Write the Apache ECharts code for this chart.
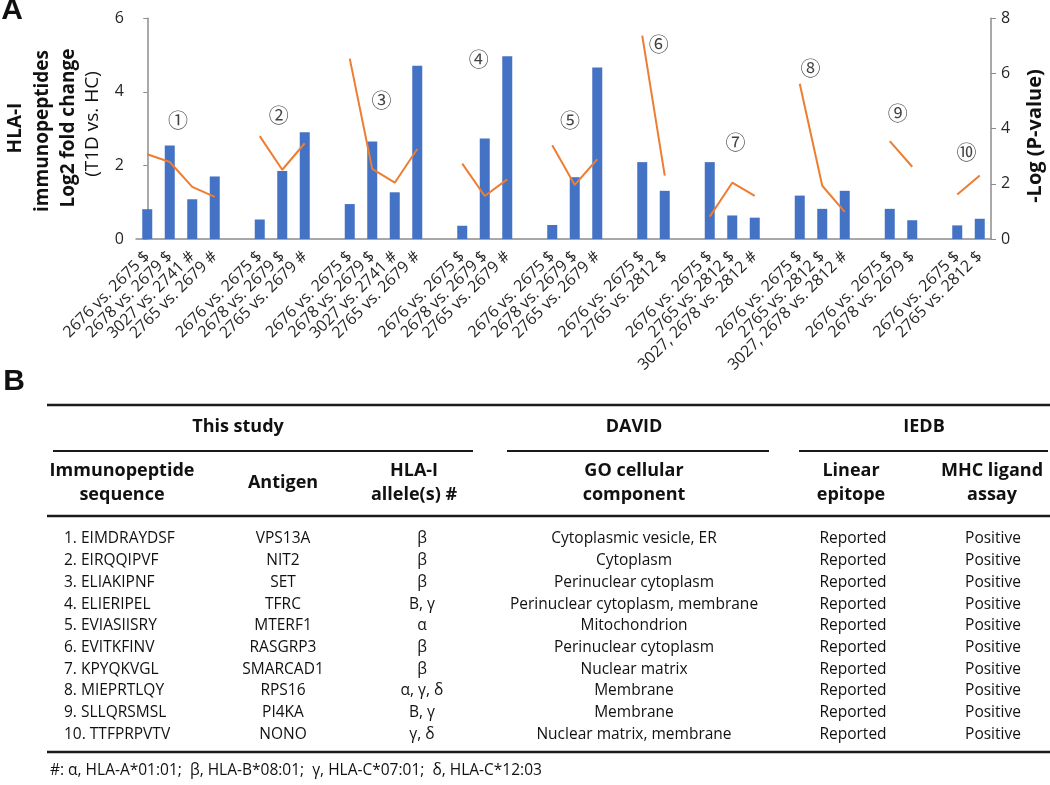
<!DOCTYPE html>
<html><head><meta charset="utf-8">
<script src="https://cdn.jsdelivr.net/npm/echarts/dist/echarts.min.js"></script>
<style>html,body{margin:0;padding:0;background:#fff}#c{width:1050px;height:785px}</style>
</head><body><div id="c"></div>
<script>
// ---------- Panel A data ----------
const categories = [
  '2676 vs. 2675 $', '2678 vs. 2679 $', '3027 vs. 2741 #', '2765 vs. 2679 #', '',
  '2676 vs. 2675 $', '2678 vs. 2679 $', '2765 vs. 2679 #', '',
  '2676 vs. 2675 $', '2678 vs. 2679 $', '3027 vs. 2741 #', '2765 vs. 2679 #', '',
  '2676 vs. 2675 $', '2678 vs. 2679 $', '2765 vs. 2679 #', '',
  '2676 vs. 2675 $', '2678 vs. 2679 $', '2765 vs. 2679 #', '',
  '2676 vs. 2675 $', '2765 vs. 2812 $', '',
  '2676 vs. 2675 $', '2765 vs. 2812 $', '3027, 2678 vs. 2812 #', '',
  '2676 vs. 2675 $', '2765 vs. 2812 $', '3027, 2678 vs. 2812 #', '',
  '2676 vs. 2675 $', '2678 vs. 2679 $', '',
  '2676 vs. 2675 $', '2765 vs. 2812 $'
];
const log2FoldChange = [
  0.81, 2.54, 1.08, 1.70, null,
  0.53, 1.85, 2.90, null,
  0.95, 2.65, 1.27, 4.71, null,
  0.36, 2.73, 4.97, null,
  0.38, 1.68, 4.66, null,
  2.09, 1.31, null,
  2.09, 0.64, 0.58, null,
  1.18, 0.82, 1.31, null,
  0.82, 0.51, null,
  0.37, 0.55
];
const negLogP = [
  3.07, 2.79, 1.89, 1.53, null,
  3.73, 2.51, 3.47, null,
  6.54, 2.54, 2.04, 3.26, null,
  2.73, 1.56, 2.16, null,
  3.40, 1.96, 2.89, null,
  7.37, 2.30, null,
  0.81, 2.04, 1.56, null,
  5.63, 1.93, 0.98, null,
  3.55, 2.62, null,
  1.61, 2.30
];
const groupMarks = ['①','②','③','④','⑤','⑥','⑦','⑧','⑨','⑩'];
const groupMarkX = [1.37, 5.84, 10.41, 14.73, 18.79, 22.73, 26.14, 29.48, 33.36, 36.41];
const groupMarkY = [3.22, 3.37, 3.78, 4.87, 3.22, 5.28, 2.62, 4.64, 3.42, 2.35];

// ---------- Panel B data ----------
const sectionHeaders = ['This study', 'DAVID', 'IEDB'];
const columnHeaders = [
  ['Immunopeptide', 'sequence'], ['Antigen'], ['HLA-I', 'allele(s) #'],
  ['GO cellular', 'component'], ['Linear', 'epitope'], ['MHC ligand', 'assay']
];
const sequences = ['1. EIMDRAYDSF','2. EIRQQIPVF','3. ELIAKIPNF','4. ELIERIPEL','5. EVIASIISRY',
  '6. EVITKFINV','7. KPYQKVGL','8. MIEPRTLQY','9. SLLQRSMSL','10. TTFPRPVTV'];
const antigens = ['VPS13A','NIT2','SET','TFRC','MTERF1','RASGRP3','SMARCAD1','RPS16','PI4KA','NONO'];
const alleles = ['β','β','β','B, γ','α','β','β','α, γ, δ','B, γ','γ, δ'];
const goComponents = ['Cytoplasmic vesicle, ER','Cytoplasm','Perinuclear cytoplasm',
  'Perinuclear cytoplasm, membrane','Mitochondrion','Perinuclear cytoplasm','Nuclear matrix',
  'Membrane','Membrane','Nuclear matrix, membrane'];
const linearEpitope = Array(10).fill('Reported');
const mhcLigandAssay = Array(10).fill('Positive');
const footnote = '#: α, HLA-A*01:01;  β, HLA-B*08:01;  γ, HLA-C*07:01;  δ, HLA-C*12:03';

// ---------- layout / style ----------
const FONT = '"Open Sans", "DejaVu Sans", sans-serif';
const AXIS_COLOR = '#8c8c8c';
const TEXT_COLOR = '#262626';

function txt(x, y, text, size, weight, align, rot, family) {
  return { type: 'text', x: x, y: y, rotation: rot || 0, silent: true,
    style: { text: text, fontSize: size, fontWeight: weight || 'normal',
      fontFamily: family || FONT, fill: '#111', align: align || 'center', verticalAlign: 'middle' } };
}
function hline(x1, x2, y, w) {
  return { type: 'line', silent: true, shape: { x1: x1, y1: y, x2: x2, y2: y },
    style: { stroke: '#1a1a1a', lineWidth: w } };
}

const graphics = [];
graphics.push(txt(12, 11, 'A', 30, 'bold', 'center', 0, '"Liberation Sans", Arial, sans-serif'));
graphics.push(txt(14, 382, 'B', 30, 'bold', 'center', 0, '"Liberation Sans", Arial, sans-serif'));
const R = Math.PI / 2;
graphics.push(txt(16, 128, 'HLA-I', 19, 'bold', 'center', R));
graphics.push(txt(43, 131, 'immunopeptides', 19, 'bold', 'center', R));
graphics.push(txt(69, 128, 'Log2 fold change', 19, 'bold', 'center', R));
graphics.push(txt(93, 124, '(T1D vs. HC)', 19, 'normal', 'center', R));
graphics.push(txt(1035, 136, '-Log (P-value)', 20, 'bold', 'center', R));

const colX = [122, 283, 414, 634, 851, 992];
const rowX = [64, 283, 422, 634, 853, 993];
const sectionX = [238, 634, 924];
graphics.push(hline(47, 1050, 405, 2.5));
sectionHeaders.forEach((h, i) => graphics.push(txt(sectionX[i], 427, h, 18, 'bold')));
graphics.push(hline(53, 473, 451, 2));
graphics.push(hline(507, 769, 451, 2));
graphics.push(hline(799, 1048, 451, 2));
columnHeaders.forEach((lines, i) => {
  if (lines.length === 1) graphics.push(txt(colX[i], 483, lines[0], 18, 'bold'));
  else { graphics.push(txt(colX[i], 471, lines[0], 18, 'bold')); graphics.push(txt(colX[i], 495, lines[1], 18, 'bold')); }
});
graphics.push(hline(47, 1050, 516, 2.5));
const cols = [sequences, antigens, alleles, goComponents, linearEpitope, mhcLigandAssay];
for (let r = 0; r < 10; r++) {
  const y = 539 + r * 21.7;
  cols.forEach((col, c) => graphics.push(txt(rowX[c], y, col[r], 15.5, 'normal', c === 0 ? 'left' : 'center')));
}
graphics.push(hline(47, 1050, 752, 2.5));
graphics.push(txt(50, 771, footnote, 15.5, 'normal', 'left'));

const chart = echarts.init(document.getElementById('c'), null, { renderer: 'canvas' });
chart.setOption({
  animation: false,
  backgroundColor: '#fff',
  grid: { left: 136, right: 59, top: 18.3, bottom: 546, containLabel: false, outerBoundsMode: 'none' },
  xAxis: [{
    type: 'category', data: categories, boundaryGap: true,
    axisLine: { show: true, lineStyle: { color: AXIS_COLOR, width: 1.5 } },
    axisTick: { show: false },
    axisLabel: { interval: 0, rotate: 45, margin: 15, fontSize: 16, fontFamily: FONT, color: TEXT_COLOR },
    splitLine: { show: false }
  }, {
    type: 'value', min: -0.5, max: 37.5, show: false
  }],
  yAxis: [{
    type: 'value', min: 0, max: 6, interval: 2, position: 'left',
    axisLine: { show: true, lineStyle: { color: AXIS_COLOR, width: 1.5 } },
    axisTick: { show: true, length: 4, lineStyle: { color: AXIS_COLOR } },
    axisLabel: { fontSize: 16, fontFamily: FONT, color: TEXT_COLOR, margin: 12 },
    splitLine: { show: false }
  }, {
    type: 'value', min: 0, max: 8, interval: 2, position: 'right',
    axisLine: { show: true, lineStyle: { color: AXIS_COLOR, width: 1.5 } },
    axisTick: { show: true, length: 5, lineStyle: { color: AXIS_COLOR } },
    axisLabel: { fontSize: 16, fontFamily: FONT, color: TEXT_COLOR, margin: 10 },
    splitLine: { show: false }
  }],
  series: [{
    type: 'bar', name: 'Log2 fold change', xAxisIndex: 0, yAxisIndex: 0,
    data: log2FoldChange, barWidth: 10,
    itemStyle: { color: '#4472C4' }
  }, {
    type: 'line', name: '-Log (P-value)', xAxisIndex: 0, yAxisIndex: 1,
    data: negLogP, connectNulls: false, symbol: 'none',
    lineStyle: { color: '#ED7D31', width: 2 }, z: 3
  }, {
    type: 'scatter', xAxisIndex: 1, yAxisIndex: 0, symbolSize: 1,
    itemStyle: { color: 'rgba(0,0,0,0)' },
    data: groupMarkX.map((x, i) => ({ name: groupMarks[i], value: [x, groupMarkY[i]] })),
    label: { show: true, position: 'inside', formatter: p => p.name,
      fontSize: 20, fontFamily: '"Noto Sans CJK JP", sans-serif', color: '#111' },
    z: 4
  }],
  graphic: graphics
});
</script></body></html>
